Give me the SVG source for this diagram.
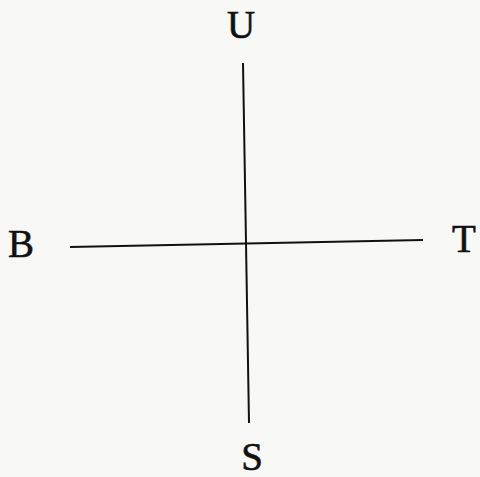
<svg xmlns="http://www.w3.org/2000/svg" width="480" height="477" viewBox="0 0 480 477">
<style>
.lbl{font-family:"Liberation Serif","Times New Roman",serif;font-size:39px;fill:#111;stroke:#111;stroke-width:0.6;text-anchor:middle}
.ax{stroke:#111;stroke-width:2;fill:none;stroke-linecap:butt}
</style>
<rect width="480" height="477" fill="#f8f8f6"/>
<g id="connectors">
<line class="ax" x1="243" y1="63" x2="249" y2="423"/>
<line class="ax" x1="70" y1="247" x2="423" y2="240"/>
</g>
<g id="U"><text class="lbl" x="241" y="38">U</text></g>
<g id="B"><text class="lbl" x="21" y="257">B</text></g>
<g id="T"><text class="lbl" x="464" y="252">T</text></g>
<g id="S"><text class="lbl" x="252" y="470">S</text></g>
</svg>
